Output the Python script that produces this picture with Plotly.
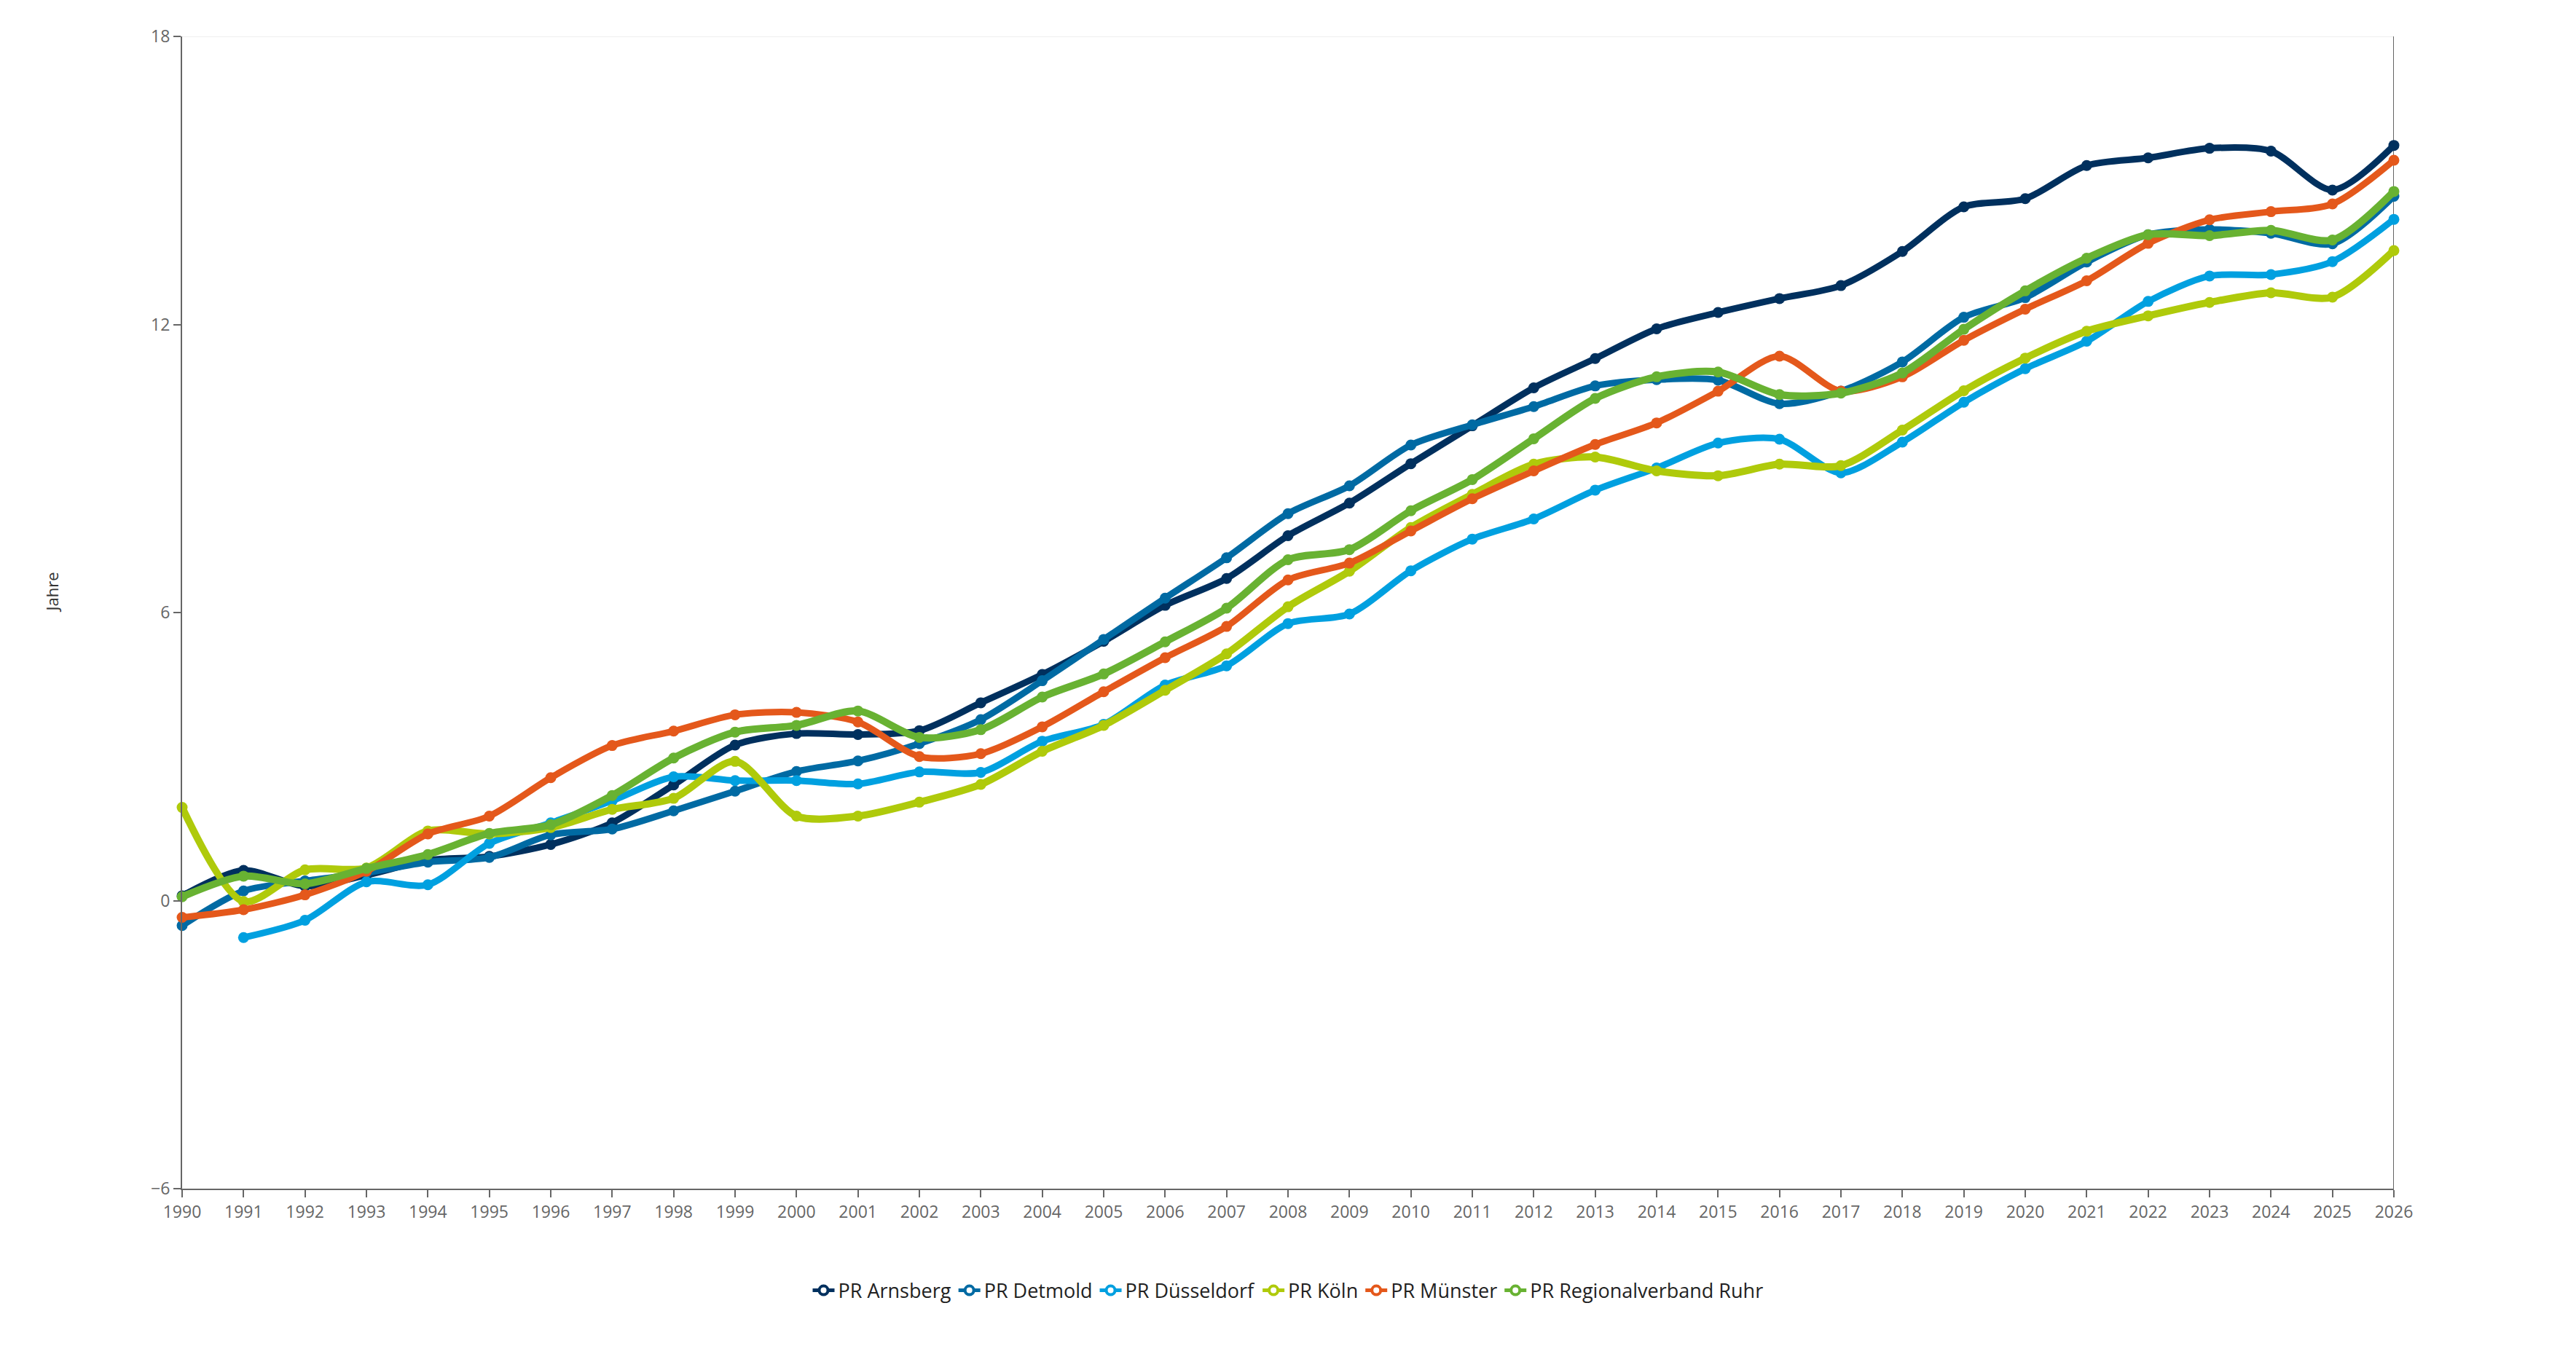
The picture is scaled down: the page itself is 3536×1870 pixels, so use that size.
import plotly.graph_objects as go

# years on the x axis
years = list(range(1990, 2027))

# values per planning region (Jahre)
arnsberg = [0.10, 0.63, 0.30, 0.53, 0.84, 0.92, 1.17, 1.62, 2.41, 3.24,
            3.48, 3.46, 3.54, 4.12, 4.71, 5.40, 6.15, 6.71, 7.60, 8.28,
            9.10, 9.89, 10.68, 11.29, 11.91, 12.25, 12.54, 12.81, 13.52, 14.45,
            14.62, 15.31, 15.47, 15.67, 15.61, 14.80, 15.73]
detmold = [-0.52, 0.20, 0.41, 0.58, 0.80, 0.90, 1.37, 1.49, 1.87, 2.28,
           2.69, 2.91, 3.27, 3.77, 4.58, 5.44, 6.30, 7.14, 8.06, 8.64,
           9.49, 9.91, 10.29, 10.72, 10.85, 10.84, 10.35, 10.61, 11.22, 12.15,
           12.56, 13.30, 13.87, 13.98, 13.90, 13.68, 14.67]
duesseldorf = [None, -0.77, -0.41, 0.39, 0.33, 1.19, 1.62, 2.08, 2.58, 2.50,
               2.50, 2.43, 2.68, 2.67, 3.32, 3.67, 4.49, 4.89, 5.77, 5.97,
               6.87, 7.53, 7.95, 8.55, 9.01, 9.53, 9.61, 8.91, 9.55, 10.38,
               11.08, 11.65, 12.48, 13.01, 13.04, 13.31, 14.19]
koeln = [1.94, -0.02, 0.64, 0.68, 1.45, 1.39, 1.52, 1.90, 2.13, 2.90,
         1.76, 1.76, 2.05, 2.42, 3.11, 3.65, 4.38, 5.14, 6.12, 6.86,
         7.77, 8.46, 9.09, 9.24, 8.95, 8.85, 9.09, 9.06, 9.80, 10.62,
         11.30, 11.86, 12.18, 12.46, 12.66, 12.57, 13.54]
muenster = [-0.35, -0.19, 0.12, 0.61, 1.39, 1.76, 2.56, 3.23, 3.53, 3.87,
            3.92, 3.72, 3.00, 3.06, 3.62, 4.35, 5.06, 5.71, 6.68, 7.03,
            7.70, 8.37, 8.95, 9.50, 9.95, 10.61, 11.34, 10.61, 10.91, 11.67,
            12.32, 12.91, 13.69, 14.18, 14.35, 14.51, 15.42]
ruhr = [0.08, 0.51, 0.35, 0.67, 0.96, 1.40, 1.58, 2.19, 2.97, 3.51,
        3.65, 3.95, 3.40, 3.56, 4.24, 4.72, 5.39, 6.09, 7.10, 7.31,
        8.12, 8.77, 9.62, 10.46, 10.91, 11.01, 10.54, 10.57, 10.99, 11.90,
        12.70, 13.38, 13.87, 13.85, 13.96, 13.76, 14.77]

names = ["PR Arnsberg", "PR Detmold", "PR Düsseldorf", "PR Köln",
         "PR Münster", "PR Regionalverband Ruhr"]
series = [arnsberg, detmold, duesseldorf, koeln, muenster, ruhr]
colors = ["#00305e", "#006aa3", "#00a0e0", "#afca0b", "#e4581b", "#68b232"]
widths = [9, 9, 9, 10, 9, 10]

font = "Open Sans, Noto Sans, sans-serif"

fig = go.Figure()
for name, ys, col, w in zip(names, series, colors, widths):
    fig.add_trace(go.Scatter(
        x=years, y=ys,
        mode="lines+markers",
        line=dict(color=col, width=w, shape="spline", smoothing=0.8),
        marker=dict(color=col, size=15),
        cliponaxis=False,
        connectgaps=False,
        showlegend=False,
        name=name,
    ))

# legend entries drawn as ring + line like the original
for name, col in zip(names, colors):
    fig.add_trace(go.Scatter(
        x=[None], y=[None],
        mode="lines+markers",
        line=dict(color=col, width=5),
        marker=dict(color="white", size=12, line=dict(color=col, width=4)),
        name=name,
    ))

# page body has an 8px margin, so the figure is a bit smaller than the window
fig.update_layout(
    width=3520,
    height=1854,
    autosize=False,
    margin=dict(l=242, r=242, t=42, b=230),
    paper_bgcolor="white",
    plot_bgcolor="white",
    font=dict(family=font, size=22, color="#666666"),
    xaxis=dict(
        range=[1990, 2026],
        dtick=1,
        tick0=1990,
        showgrid=False,
        zeroline=False,
        showline=True,
        linecolor="#666666",
        linewidth=2,
        ticks="outside",
        ticklen=10,
        tickwidth=2,
        tickcolor="#666666",
        tickfont=dict(family=font, size=23, color="#666666"),
    ),
    yaxis=dict(
        range=[-6, 18],
        dtick=6,
        tick0=0,
        showgrid=False,
        zeroline=False,
        showline=True,
        linecolor="#666666",
        linewidth=2,
        ticks="outside",
        ticklen=10,
        tickwidth=2,
        tickcolor="#666666",
        tickfont=dict(family=font, size=23, color="#666666"),
    ),
    legend=dict(
        orientation="h",
        x=0.5, xanchor="center",
        y=-0.0885, yanchor="middle",
        font=dict(family=font, size=27, color="#222222"),
        itemwidth=30,
        traceorder="normal",
    ),
    annotations=[dict(
        text="Jahre",
        xref="paper", yref="paper",
        x=-0.059, y=0.518,
        xanchor="center", yanchor="middle",
        textangle=-90,
        showarrow=False,
        font=dict(family=font, size=22, color="#333333"),
    )],
    shapes=[
        dict(type="line", xref="paper", yref="y", x0=0, x1=1, y0=18, y1=18,
             line=dict(color="#eeeeee", width=2), layer="below"),
        dict(type="line", xref="x", yref="paper", x0=2026, x1=2026, y0=0, y1=1,
             line=dict(color="#666666", width=2), layer="below"),
    ],
)

fig.write_html("out.html")
